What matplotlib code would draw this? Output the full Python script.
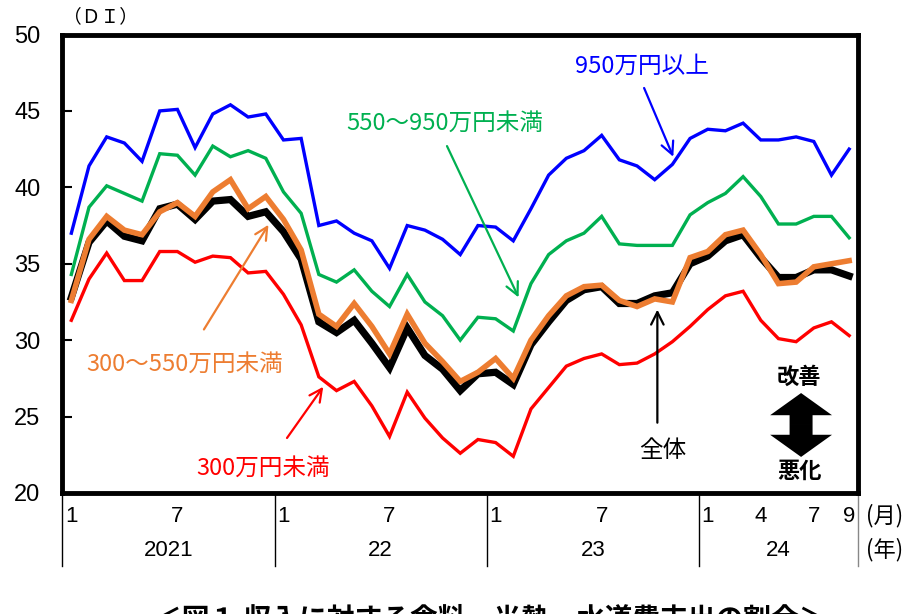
import matplotlib
matplotlib.use("Agg")
import matplotlib.pyplot as plt
import matplotlib.patches as mpatches
from matplotlib.lines import Line2D
import matplotlib.transforms as mtransforms

# Monthly DI, Jan 2021 - Sep 2024
overall = [32.8, 36.4, 37.8, 36.8, 36.5, 38.6, 38.9, 37.9, 39.1, 39.2, 38.1, 38.4,
           37.1, 35.3, 31.2, 30.5, 31.3, 29.8, 28.2, 30.8, 29.0, 28.1, 26.7, 27.8,
           27.9, 27.1, 29.7, 31.2, 32.6, 33.3, 33.5, 32.4, 32.4, 32.9, 33.1, 35.0,
           35.5, 36.5, 36.9, 35.4, 34.1, 34.1, 34.6, 34.6, 34.2]
under_300 = [31.3, 34.0, 35.7, 33.9, 33.9, 35.8, 35.8, 35.1, 35.5, 35.4, 34.4, 34.5,
             33.0, 31.0, 27.6, 26.7, 27.3, 25.7, 23.7, 26.6, 24.9, 23.6, 22.6, 23.5,
             23.3, 22.4, 25.5, 26.9, 28.3, 28.8, 29.1, 28.4, 28.5, 29.1, 29.9, 30.9,
             32.0, 32.9, 33.2, 31.3, 30.1, 29.9, 30.8, 31.2, 30.3]
from_300_550 = [32.6, 36.6, 38.1, 37.2, 36.9, 38.4, 39.0, 38.1, 39.7, 40.5, 38.6, 39.4,
                37.9, 35.9, 31.7, 30.9, 32.4, 30.9, 29.1, 31.7, 29.8, 28.6, 27.3, 27.9,
                28.8, 27.5, 30.0, 31.6, 32.9, 33.5, 33.6, 32.6, 32.2, 32.7, 32.5, 35.4,
                35.8, 36.9, 37.2, 35.6, 33.7, 33.8, 34.8, 35.0, 35.2]
from_550_950 = [34.3, 38.7, 40.1, 39.6, 39.1, 42.2, 42.1, 40.8, 42.7, 42.0, 42.4, 41.9,
                39.7, 38.3, 34.3, 33.8, 34.6, 33.2, 32.2, 34.3, 32.5, 31.6, 30.0, 31.5,
                31.4, 30.6, 33.7, 35.6, 36.5, 37.0, 38.1, 36.3, 36.2, 36.2, 36.2, 38.2,
                39.0, 39.6, 40.7, 39.4, 37.6, 37.6, 38.1, 38.1, 36.7]
over_950 = [37.0, 41.4, 43.3, 42.9, 41.7, 45.0, 45.1, 42.6, 44.8, 45.4, 44.6, 44.8,
            43.1, 43.2, 37.5, 37.8, 37.0, 36.5, 34.7, 37.5, 37.2, 36.6, 35.6, 37.5,
            37.4, 36.5, 38.6, 40.8, 41.9, 42.4, 43.4, 41.8, 41.4, 40.5, 41.5, 43.2,
            43.8, 43.7, 44.2, 43.1, 43.1, 43.3, 43.0, 40.8, 42.5]

month_tick_idx = [0, 6, 12, 18, 24, 30, 36, 39, 42, 44]
month_tick_lbl = ["1", "7", "1", "7", "1", "7", "1", "4", "7", "9"]
year_centers = [5.5, 17.5, 29.5, 40.0]
year_labels = ["2021", "22", "23", "24"]
year_bounds = [-0.5, 11.5, 23.5, 35.5, 44.5]

JP = ["Noto Sans CJK JP", "DejaVu Sans"]
plt.rcParams["font.family"] = ["Liberation Sans", "Noto Sans CJK JP", "DejaVu Sans"]

W, H = 914, 614
fig = plt.figure(figsize=(W / 100, H / 100), dpi=100)
L, R, T, B = 62.5, 858, 34.5, 493
ax = fig.add_axes([L / W, 1 - B / H, (R - L) / W, (B - T) / H])

x = list(range(len(overall)))
ax.plot(x, under_300, color="#FF0000", lw=2.4, zorder=3, solid_joinstyle="miter")
ax.plot(x, over_950, color="#0000FF", lw=2.4, zorder=3, solid_joinstyle="miter")
ax.plot(x, from_550_950, color="#00B050", lw=2.4, zorder=3, solid_joinstyle="miter")
ax.plot(x, overall, color="black", lw=5.2, zorder=4, solid_joinstyle="miter")
ax.plot(x, from_300_550, color="#ED7D31", lw=4.0, zorder=5, solid_joinstyle="miter")

ax.set_xlim(-0.5, 44.5)
ax.set_ylim(20, 50)
ax.set_yticks(range(20, 51, 5))
ax.tick_params(axis="y", direction="in", length=7, width=1.5, labelsize=17, pad=16)
ax.set_xticks([])
for s in ax.spines.values():
    s.set_linewidth(3.5)
    s.set_color("black")

# lower category axis: months, years and separators
trans = mtransforms.blended_transform_factory(ax.transData, ax.transAxes)
mon_y = (B - 516) / (B - T)
yr_y = (B - 550) / (B - T)
sep_y = (B - 566) / (B - T)
for i, lbl in zip(month_tick_idx, month_tick_lbl):
    ax.text(i, mon_y, lbl, transform=trans, ha="center", va="center", fontsize=16)
for c, lbl in zip(year_centers, year_labels):
    ax.text(c, yr_y, lbl, transform=trans, ha="center", va="center", fontsize=16)
for b in year_bounds[:-1]:
    ax.add_line(Line2D([b, b], [0, sep_y], transform=trans, color="black",
                       lw=1.0, clip_on=False))
ax.add_line(Line2D([44.5, 44.5], [0, sep_y], transform=trans, color="#888888",
                   lw=1.0, clip_on=False))
ax.text(46.0, mon_y, "(月)", transform=trans, ha="center", va="center",
        fontsize=16, family=JP)
ax.text(46.0, yr_y, "(年)", transform=trans, ha="center", va="center",
        fontsize=16, family=JP)

fig.text(L / W, 1 - 17 / H, "（ＤＩ）", ha="left", va="center", fontsize=13.5, family=JP)

# series labels with pointer arrows
labels = [
    ("950万円以上", "#0000FF", (32.3, 47.95), (32.4, 46.5), (34.05, 42.0)),
    ("550～950万円未満", "#00B050", (21.1, 44.2), (21.25, 42.7), (25.3, 32.8)),
    ("300～550万円未満", "#ED7D31", (6.4, 28.4), (7.5, 30.7), (11.15, 37.55)),
    ("300万円未満", "#FF0000", (10.85, 21.65), (12.2, 23.6), (14.25, 26.95)),
    ("全体", "black", (33.45, 22.8), (33.15, 24.6), (33.15, 32.0)),
]
for txt, col, tpos, tail, head in labels:
    ax.text(*tpos, txt, color=col, ha="center", va="center", fontsize=17,
            family=JP, zorder=6)
    ax.annotate("", xy=head, xytext=tail,
                arrowprops=dict(arrowstyle="->,head_length=0.9,head_width=0.45",
                                color=col, lw=1.6, shrinkA=0, shrinkB=0),
                zorder=6)

# improvement / deterioration marker
ax.text(41.17, 27.6, "改善", ha="center", va="center", fontsize=16,
        fontweight="bold", family=JP)
ax.text(41.17, 21.4, "悪化", ha="center", va="center", fontsize=16,
        fontweight="bold", family=JP)
mid = 24.45
for dy in (26.54 - mid, 22.36 - mid):
    ax.add_patch(mpatches.FancyArrow(41.28, mid, 0, dy, width=1.3,
                                     head_width=3.5, head_length=1.45,
                                     length_includes_head=True, color="black",
                                     lw=0, zorder=6))

fig.text(490 / W, 1 - 619 / H, "＜図１ 収入に対する食料・光熱・水道費支出の割合＞",
         ha="center", va="center", fontsize=20, fontweight="bold", family=JP)

fig.savefig("out.png", dpi=100)
